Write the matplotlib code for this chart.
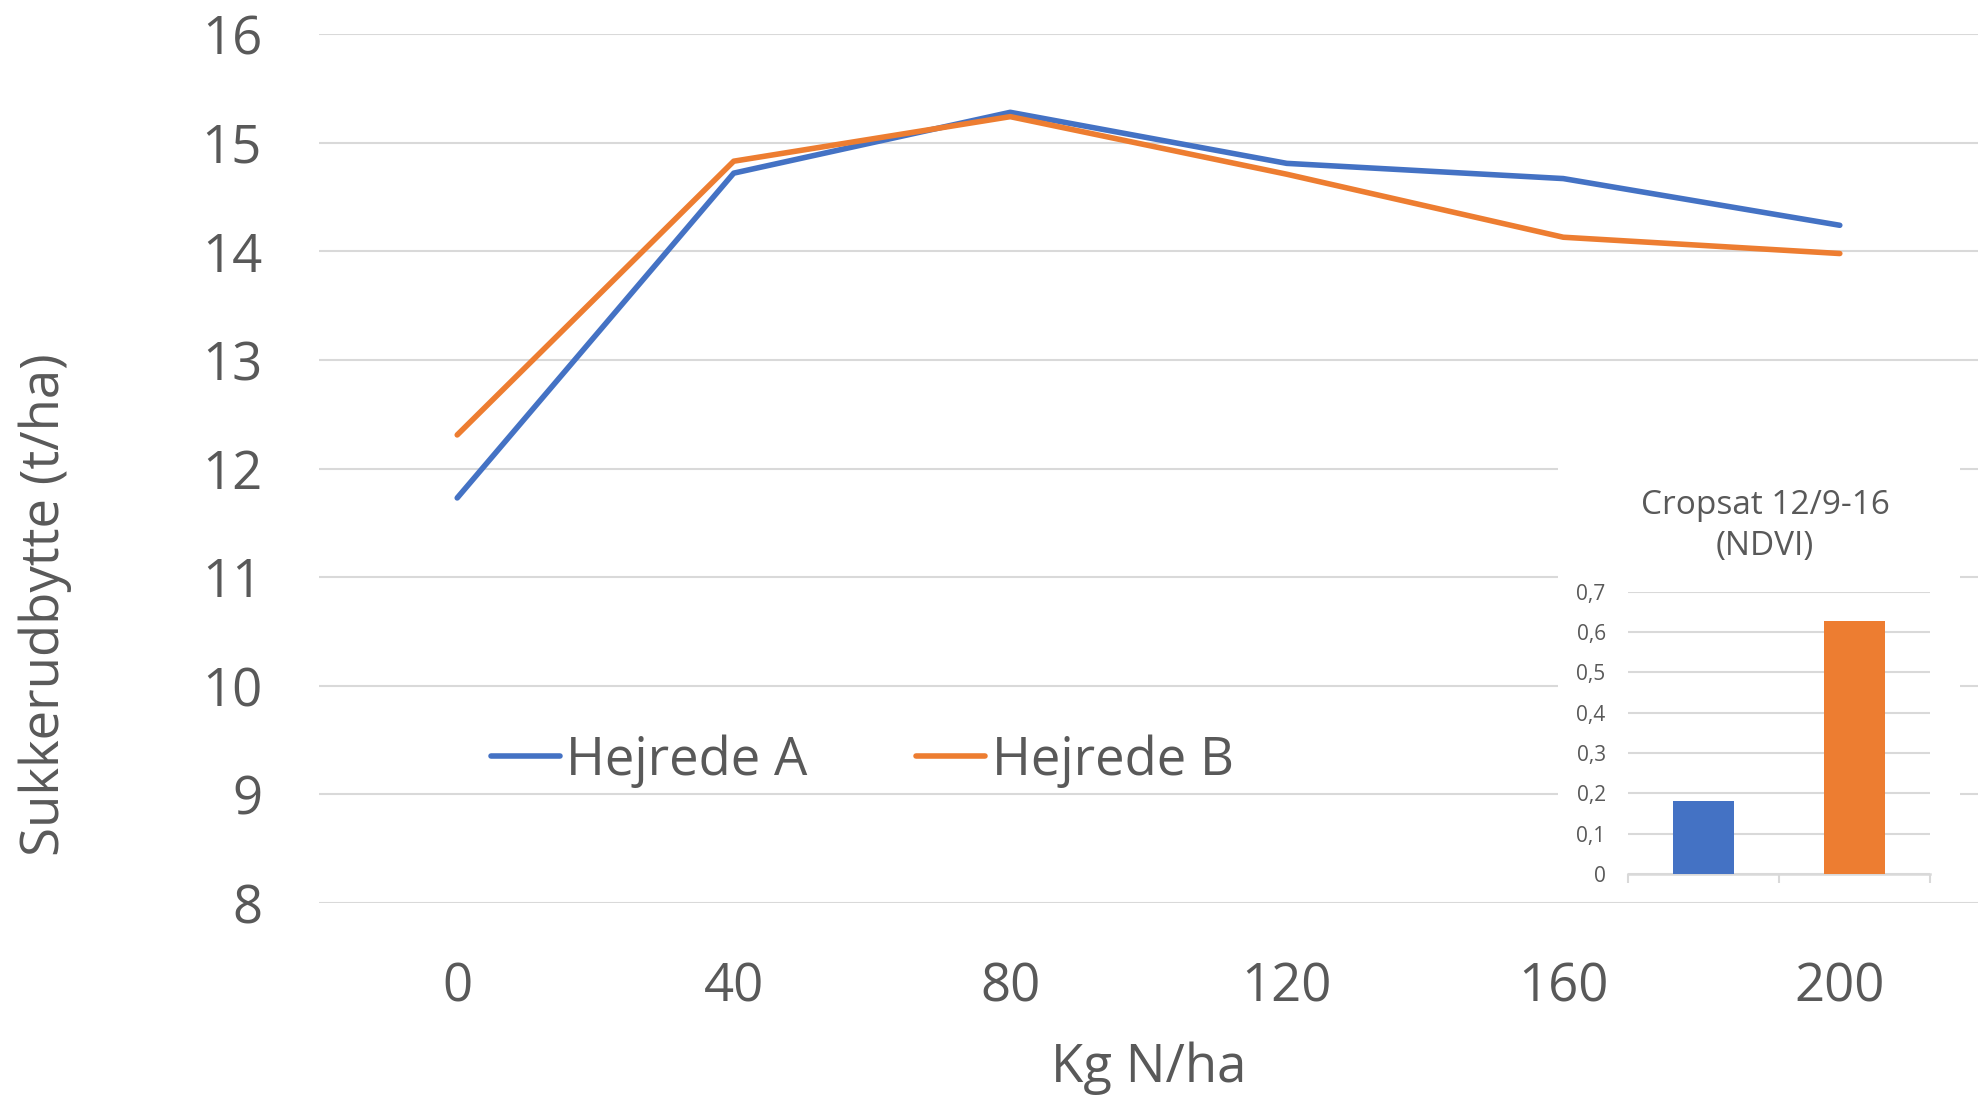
import matplotlib.pyplot as plt
from matplotlib.patches import Rectangle

plt.rcParams['font.family'] = ['Open Sans', 'DejaVu Sans']

# data
kg_n = ['0', '40', '80', '120', '160', '200']
hejrede_a = [11.73, 14.72, 15.28, 14.81, 14.67, 14.24]
hejrede_b = [12.31, 14.83, 15.24, 14.71, 14.13, 13.98]

ndvi_fields = ['Hejrede A', 'Hejrede B']
ndvi_values = [0.181, 0.628]

BLUE = '#4472C4'
ORANGE = '#ED7D31'
GRID = '#D9D9D9'
TXT = '#595959'
FS = 38

fig = plt.figure(figsize=(19.86, 11), dpi=100)

# hovedgraf
ax = fig.add_axes([0.1606, 0.179, 0.8354, 0.79])
x = list(range(len(kg_n)))
ax.plot(x, hejrede_a, color=BLUE, lw=4, label='Hejrede A', solid_capstyle='round')
ax.plot(x, hejrede_b, color=ORANGE, lw=4, label='Hejrede B', solid_capstyle='round')
ax.set_xlim(-0.5, len(kg_n) - 0.5)
ax.set_ylim(8, 16)
ax.set_yticks(range(8, 17))
ax.set_xticks(x)
ax.set_xticklabels(kg_n)
ax.yaxis.grid(True, color=GRID, lw=1.5)
ax.set_axisbelow(True)
for s in ax.spines.values():
    s.set_visible(False)
ax.tick_params(axis='both', length=0, labelsize=FS, labelcolor=TXT)
ax.tick_params(axis='x', pad=42)
ax.tick_params(axis='y', pad=41)

fig.text(45 / 1986, 1 - 605 / 1100, 'Sukkerudbytte (t/ha)', rotation=90,
         ha='center', va='center', fontsize=FS, color=TXT)
fig.text(1149 / 1986, 1 - 1068 / 1100, 'Kg N/ha', ha='center', va='center',
         fontsize=FS, color=TXT)

fig.legend(loc='center left', bbox_to_anchor=(491 / 1986, 1 - 761 / 1100), ncol=2,
           frameon=False, fontsize=FS, labelcolor=TXT, handlelength=1.3,
           handletextpad=0.13, columnspacing=2.05, borderpad=0, borderaxespad=0)

# indsat NDVI graf
bg = Rectangle((1558 / 1986, 1 - 895 / 1100), (1960 - 1558) / 1986, (895 - 462) / 1100,
               transform=fig.transFigure, facecolor='white', edgecolor='none', zorder=1)
fig.patches.append(bg)

ins = fig.add_axes([0.8197, 0.2055, 0.1521, 0.2564], zorder=2)
ins.bar(range(len(ndvi_fields)), ndvi_values, width=0.4, color=[BLUE, ORANGE], zorder=3)
ins.set_xlim(-0.5, 1.5)
ins.set_ylim(0, 0.7)
yt = [i / 10 for i in range(8)]
ins.set_yticks(yt)
ins.set_yticklabels([('%.1f' % v).replace('.', ',') if v > 0 else '0' for v in yt])
ins.yaxis.grid(True, color=GRID, lw=1.5)
ins.set_axisbelow(True)
ins.set_xticks([-0.5, 0.5, 1.5])
ins.set_xticklabels([])
for s in ['top', 'right', 'left']:
    ins.spines[s].set_visible(False)
ins.spines['bottom'].set_color(GRID)
ins.spines['bottom'].set_linewidth(1.8)
ins.tick_params(axis='y', length=0, labelsize=15, labelcolor=TXT, pad=16)
ins.tick_params(axis='x', length=6.5, width=1.5, color=GRID, direction='out')

fig.text(1765 / 1986, 1 - 526 / 1100, 'Cropsat 12/9-16\n(NDVI)', ha='center', va='center',
         fontsize=24, color=TXT, linespacing=1.35)

fig.savefig('out.png', dpi=100)
